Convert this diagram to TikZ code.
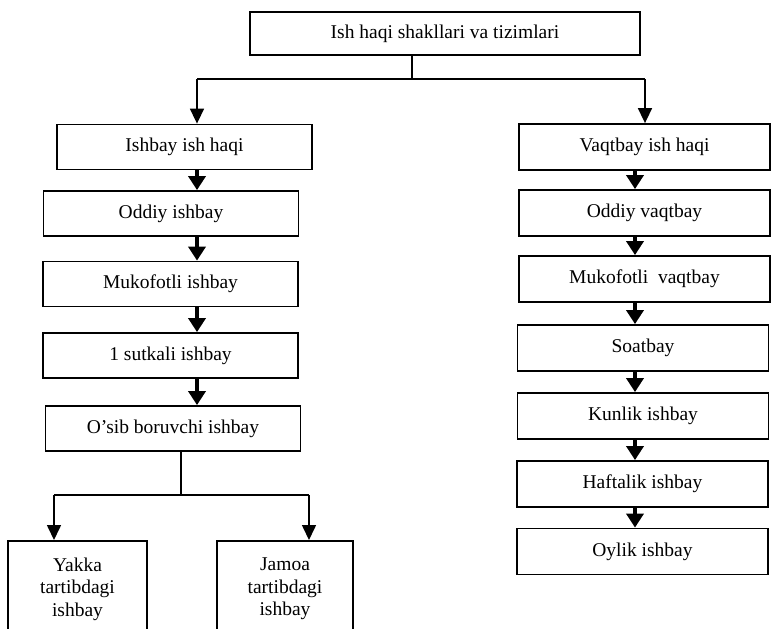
\documentclass[tikz,border=0pt]{standalone}
\usepackage{fontspec}
\setmainfont{Liberation Serif}
\usetikzlibrary{arrows.meta}

\begin{document}
\begin{tikzpicture}[x=1pt,y=-1pt,
	box/.style={draw,line width=1.8pt,inner sep=0pt,align=center,font=\fontsize{19.5}{22.5}\selectfont},
	lbox/.style={box,minimum width=255pt,minimum height=45pt},
	rbox/.style={box,minimum width=251pt,minimum height=46pt},
	fork/.style={line width=1.6pt,-{Triangle[width=14pt,length=15pt]}},
	dnarrow/.style={line width=4pt,-{Triangle[width=17pt,length=14pt]}}]
		\useasboundingbox (0,0) rectangle (772,629);
		\clip (0,0) rectangle (772,629);
		\node[box,minimum width=390pt,minimum height=43pt] (top) at (445,33.5) {Ish haqi shakllari va tizimlari};
		\node[lbox] (ish) at (184.5,147) {Ishbay ish haqi};
		\node[lbox] (oddI) at (171,213.5) {Oddiy ishbay};
		\node[lbox] (mukI) at (170.5,284) {Mukofotli ishbay};
		\node[lbox] (sut) at (170.5,355.5) {1 sutkali ishbay};
		\node[lbox] (osib) at (173,428.5) {O’sib boruvchi ishbay};
		\node[box,minimum width=139pt,minimum height=96pt,anchor=north] (yakka) at (77.5,540) {Yakka\\tartibdagi\\ishbay};
		\node[box,minimum width=136pt,minimum height=96pt,anchor=north] (jamoa) at (285,540) {Jamoa\\tartibdagi\\ishbay};
		\node[rbox] (vaqt) at (644.5,147) {Vaqtbay ish haqi};
		\node[rbox] (oddV) at (644.5,213) {Oddiy vaqtbay};
		\node[rbox] (mukV) at (644.5,279) {Mukofotli\ \ vaqtbay};
		\node[rbox] (soat) at (643,348) {Soatbay};
		\node[rbox] (kun) at (643,416) {Kunlik ishbay};
		\node[rbox] (haft) at (642.5,484) {Haftalik ishbay};
		\node[rbox] (oy) at (642.5,551.5) {Oylik ishbay};
		\coordinate (j) at (412,79);
		\coordinate (jl) at (197,79);
		\coordinate (jr) at (645,79);
		\coordinate (rx) at (635,0);
		\coordinate (k) at (181,495);
		\coordinate (kl) at (54,495);
		\coordinate (kr) at (309,495);
		\draw[line width=1.6pt] (top.south -| j) -- (j);
		\draw[line width=1.6pt] (jl) -- (jr);
		\draw[fork] (jl) -- (jl |- ish.north);
		\draw[fork] (jr) -- (jr |- vaqt.north);
		\draw[dnarrow] (ish.south -| jl) -- (oddI.north -| jl);
		\draw[dnarrow] (oddI.south -| jl) -- (mukI.north -| jl);
		\draw[dnarrow] (mukI.south -| jl) -- (sut.north -| jl);
		\draw[dnarrow] (sut.south -| jl) -- (osib.north -| jl);
		\draw[dnarrow] (vaqt.south -| rx) -- (oddV.north -| rx);
		\draw[dnarrow] (oddV.south -| rx) -- (mukV.north -| rx);
		\draw[dnarrow] (mukV.south -| rx) -- (soat.north -| rx);
		\draw[dnarrow] (soat.south -| rx) -- (kun.north -| rx);
		\draw[dnarrow] (kun.south -| rx) -- (haft.north -| rx);
		\draw[dnarrow] (haft.south -| rx) -- (oy.north -| rx);
		\draw[line width=1.6pt] (osib.south -| k) -- (k);
		\draw[line width=1.6pt] (kl) -- (kr);
		\draw[fork] (kl) -- (kl |- yakka.north);
		\draw[fork] (kr) -- (kr |- jamoa.north);
	\end{tikzpicture}
\end{document}
